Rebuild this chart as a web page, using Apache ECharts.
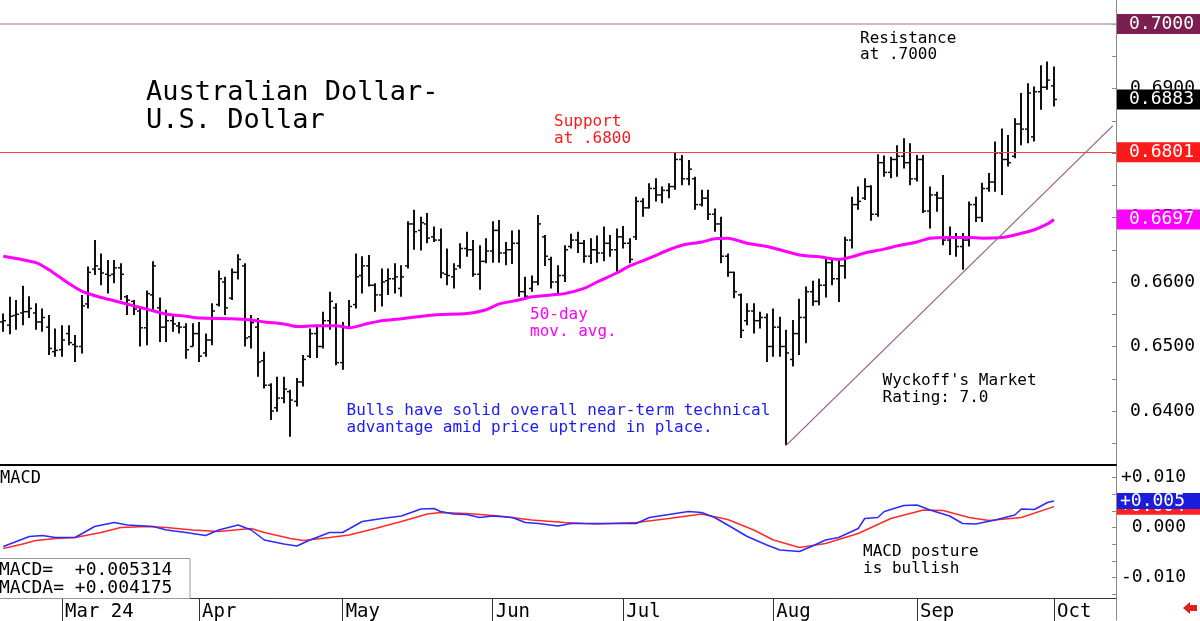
<!DOCTYPE html>
<html>
<head>
<meta charset="utf-8">
<title>Australian Dollar - U.S. Dollar</title>
<script src="https://cdn.jsdelivr.net/npm/echarts@6/dist/echarts.min.js"></script>
<style>
  html, body { margin: 0; padding: 0; background: #ffffff; }
  #chart { width: 1200px; height: 621px; }
</style>
</head>
<body>
<div id="chart"></div>
<script>
var FONT = '"DejaVu Sans Mono", "Liberation Mono", monospace';

// trading days (weekdays) from Feb 19 2024, with some empty room after the last bar
var dates = [];
(function () {
  var d = new Date(Date.UTC(2024, 1, 19));
  while (dates.length < 171) {
    var wd = d.getUTCDay();
    if (wd !== 0 && wd !== 6) dates.push(d.toISOString().slice(0, 10));
    d.setUTCDate(d.getUTCDate() + 1);
  }
})();
var monthNames = { "03": "Mar 24", "04": "Apr", "05": "May", "06": "Jun", "07": "Jul", "08": "Aug", "09": "Sep", "10": "Oct" };

// daily bars
var opens = [
  0.6538, 0.6533, 0.6548, 0.6552, 0.6554, 0.6552, 0.6538, 0.6530, 0.6492, 0.6495,
  0.6520, 0.6503, 0.6500, 0.6566, 0.6620, 0.6620, 0.6612, 0.6612, 0.6622, 0.6577,
  0.6570, 0.6555, 0.6529, 0.6580, 0.6560, 0.6530, 0.6540, 0.6532, 0.6530, 0.6500,
  0.6520, 0.6490, 0.6510, 0.6565, 0.6600, 0.6575, 0.6615, 0.6625, 0.6515, 0.6530,
  0.6478, 0.6440, 0.6405, 0.6420, 0.6430, 0.6415, 0.6445, 0.6485, 0.6520, 0.6500,
  0.6540, 0.6560, 0.6475, 0.6530, 0.6565, 0.6610, 0.6625, 0.6595, 0.6580, 0.6602,
  0.6605, 0.6590, 0.6625, 0.6690, 0.6680, 0.6690, 0.6670, 0.6665, 0.6612, 0.6608,
  0.6625, 0.6652, 0.6650, 0.6612, 0.6632, 0.6648, 0.6680, 0.6645, 0.6650, 0.6660,
  0.6585, 0.6590, 0.6600, 0.6670, 0.6635, 0.6600, 0.6610, 0.6655, 0.6665, 0.6660,
  0.6640, 0.6650, 0.6645, 0.6660, 0.6650, 0.6670, 0.6660, 0.6670, 0.6725, 0.6715,
  0.6745, 0.6735, 0.6742, 0.6748, 0.6790, 0.6760, 0.6760, 0.6720, 0.6730, 0.6705,
  0.6690, 0.6640, 0.6615, 0.6580, 0.6540, 0.6555, 0.6540, 0.6545, 0.6500, 0.6530,
  0.6500, 0.6480, 0.6520, 0.6545, 0.6585, 0.6570, 0.6595, 0.6630, 0.6605, 0.6625,
  0.6665, 0.6720, 0.6730, 0.6748, 0.6705, 0.6785, 0.6770, 0.6790, 0.6795, 0.6785,
  0.6760, 0.6790, 0.6710, 0.6735, 0.6730, 0.6665, 0.6670, 0.6655, 0.6665, 0.6720,
  0.6700, 0.6745, 0.6755, 0.6800, 0.6790, 0.6795, 0.6845, 0.6837, 0.6825, 0.6895,
  0.6902, 0.6904
];
var highs = [
  0.6551, 0.6577, 0.6572, 0.6594, 0.6578, 0.6567, 0.6559, 0.6549, 0.6528, 0.6533,
  0.6533, 0.6518, 0.6580, 0.6624, 0.6665, 0.6644, 0.6634, 0.6634, 0.6629, 0.6580,
  0.6572, 0.6562, 0.6587, 0.6632, 0.6576, 0.6557, 0.6549, 0.6538, 0.6536, 0.6536,
  0.6538, 0.6520, 0.6567, 0.6618, 0.6608, 0.6621, 0.6643, 0.6629, 0.6549, 0.6544,
  0.6492, 0.6443, 0.6453, 0.6453, 0.6433, 0.6451, 0.6487, 0.6528, 0.6533, 0.6554,
  0.6585, 0.6567, 0.6538, 0.6572, 0.6644, 0.6640, 0.6642, 0.6598, 0.6621, 0.6621,
  0.6629, 0.6626, 0.6694, 0.6712, 0.6701, 0.6707, 0.6686, 0.6683, 0.6652, 0.6629,
  0.6660, 0.6678, 0.6665, 0.6657, 0.6668, 0.6694, 0.6696, 0.6662, 0.6680, 0.6681,
  0.6608, 0.6610, 0.6704, 0.6673, 0.6639, 0.6626, 0.6657, 0.6675, 0.6678, 0.6665,
  0.6668, 0.6672, 0.6686, 0.6673, 0.6683, 0.6687, 0.6668, 0.6732, 0.6730, 0.6753,
  0.6761, 0.6748, 0.6753, 0.6800, 0.6797, 0.6789, 0.6763, 0.6743, 0.6743, 0.6714,
  0.6701, 0.6644, 0.6616, 0.6582, 0.6567, 0.6567, 0.6554, 0.6551, 0.6559, 0.6546,
  0.6526, 0.6541, 0.6574, 0.6593, 0.6602, 0.6605, 0.6636, 0.6636, 0.6634, 0.6670,
  0.6732, 0.6748, 0.6761, 0.6750, 0.6798, 0.6796, 0.6794, 0.6812, 0.6823, 0.6815,
  0.6797, 0.6797, 0.6748, 0.6740, 0.6766, 0.6686, 0.6676, 0.6676, 0.6725, 0.6732,
  0.6754, 0.6769, 0.6818, 0.6838, 0.6828, 0.6854, 0.6893, 0.6908, 0.6903, 0.6936,
  0.6942, 0.6934
];
var lows = [
  0.6523, 0.6519, 0.6526, 0.6533, 0.6544, 0.6526, 0.6523, 0.6487, 0.6484, 0.6484,
  0.6502, 0.6476, 0.6489, 0.6559, 0.6611, 0.6595, 0.6582, 0.6598, 0.6572, 0.6549,
  0.6549, 0.6500, 0.6502, 0.6556, 0.6507, 0.6507, 0.6523, 0.6520, 0.6481, 0.6500,
  0.6476, 0.6484, 0.6502, 0.6562, 0.6549, 0.6572, 0.6604, 0.6500, 0.6497, 0.6453,
  0.6435, 0.6386, 0.6399, 0.6412, 0.6360, 0.6407, 0.6438, 0.6482, 0.6482, 0.6497,
  0.6526, 0.6471, 0.6464, 0.6528, 0.6559, 0.6582, 0.6593, 0.6554, 0.6562, 0.6580,
  0.6582, 0.6577, 0.6621, 0.6650, 0.6649, 0.6660, 0.6662, 0.6606, 0.6595, 0.6590,
  0.6621, 0.6639, 0.6608, 0.6588, 0.6629, 0.6630, 0.6630, 0.6626, 0.6628, 0.6577,
  0.6572, 0.6585, 0.6595, 0.6625, 0.6590, 0.6582, 0.6600, 0.6652, 0.6645, 0.6630,
  0.6628, 0.6630, 0.6632, 0.6639, 0.6616, 0.6652, 0.6629, 0.6665, 0.6701, 0.6714,
  0.6725, 0.6722, 0.6730, 0.6743, 0.6750, 0.6750, 0.6712, 0.6717, 0.6696, 0.6678,
  0.6629, 0.6608, 0.6575, 0.6513, 0.6533, 0.6520, 0.6528, 0.6476, 0.6484, 0.6484,
  0.6347, 0.6469, 0.6487, 0.6505, 0.6563, 0.6564, 0.6576, 0.6595, 0.6569, 0.6605,
  0.6652, 0.6712, 0.6727, 0.6695, 0.6701, 0.6763, 0.6761, 0.6763, 0.6776, 0.6750,
  0.6756, 0.6707, 0.6683, 0.6709, 0.6657, 0.6642, 0.6639, 0.6619, 0.6655, 0.6693,
  0.6693, 0.6740, 0.6740, 0.6735, 0.6779, 0.6792, 0.6812, 0.6815, 0.6818, 0.6867,
  0.6898, 0.6872
];
var closes = [
  0.6540, 0.6547, 0.6550, 0.6554, 0.6559, 0.6538, 0.6545, 0.6497, 0.6494, 0.6510,
  0.6506, 0.6500, 0.6563, 0.6615, 0.6625, 0.6614, 0.6610, 0.6622, 0.6612, 0.6572,
  0.6558, 0.6529, 0.6582, 0.6625, 0.6530, 0.6540, 0.6535, 0.6530, 0.6495, 0.6520,
  0.6485, 0.6510, 0.6555, 0.6605, 0.6560, 0.6615, 0.6635, 0.6513, 0.6537, 0.6476,
  0.6440, 0.6400, 0.6420, 0.6434, 0.6417, 0.6445, 0.6480, 0.6520, 0.6500, 0.6540,
  0.6570, 0.6475, 0.6530, 0.6562, 0.6608, 0.6625, 0.6595, 0.6580, 0.6600, 0.6605,
  0.6608, 0.6608, 0.6690, 0.6678, 0.6692, 0.6668, 0.6665, 0.6614, 0.6610, 0.6620,
  0.6652, 0.6650, 0.6612, 0.6632, 0.6648, 0.6680, 0.6645, 0.6650, 0.6660, 0.6585,
  0.6578, 0.6600, 0.6690, 0.6640, 0.6600, 0.6610, 0.6650, 0.6665, 0.6660, 0.6640,
  0.6650, 0.6645, 0.6660, 0.6650, 0.6670, 0.6660, 0.6635, 0.6725, 0.6715, 0.6745,
  0.6735, 0.6742, 0.6748, 0.6790, 0.6760, 0.6775, 0.6720, 0.6730, 0.6705, 0.6690,
  0.6640, 0.6615, 0.6585, 0.6525, 0.6555, 0.6540, 0.6545, 0.6500, 0.6530, 0.6500,
  0.6490, 0.6520, 0.6545, 0.6585, 0.6570, 0.6595, 0.6630, 0.6605, 0.6625, 0.6665,
  0.6720, 0.6725, 0.6748, 0.6705, 0.6785, 0.6770, 0.6790, 0.6795, 0.6785, 0.6760,
  0.6790, 0.6710, 0.6735, 0.6730, 0.6665, 0.6670, 0.6655, 0.6665, 0.6720, 0.6700,
  0.6745, 0.6755, 0.6800, 0.6790, 0.6785, 0.6845, 0.6837, 0.6893, 0.6895, 0.6902,
  0.6913, 0.6883
];

// 50-day moving average, [bar index, value]
var ma50 = [
  [0, 0.6640], [5, 0.6630], [7, 0.6619], [10, 0.6598], [12, 0.6586], [15, 0.6576],
  [17, 0.6571], [20, 0.6563], [22, 0.6558], [25, 0.6550], [28, 0.6547], [30, 0.6544],
  [35, 0.6543], [38, 0.6541], [40, 0.6538], [43, 0.6535], [45, 0.6531], [48, 0.6532],
  [51, 0.6532], [53, 0.6529], [56, 0.6536], [58, 0.6540], [61, 0.6543], [66, 0.6549],
  [71, 0.6551], [74, 0.6557], [76, 0.6566], [79, 0.6572], [81, 0.6577], [84, 0.6580],
  [86, 0.6582], [89, 0.6590], [91, 0.6600], [94, 0.6614], [96, 0.6625], [99, 0.6637],
  [102, 0.6650], [104, 0.6657], [107, 0.6662], [109, 0.6667], [111, 0.6668], [114, 0.6660],
  [117, 0.6655], [119, 0.6650], [122, 0.6642], [125, 0.6639], [128, 0.6635], [130, 0.6639],
  [132, 0.6645], [135, 0.6651], [137, 0.6656], [140, 0.6662], [142, 0.6668], [145, 0.6669],
  [148, 0.6669], [150, 0.6668], [153, 0.6669], [155, 0.6673], [158, 0.6681], [160, 0.6690],
  [161, 0.6697]
];

// MACD (blue) and its average (red), [bar index, value]
var macdLine = [
  [0, -0.0038], [2, -0.0028], [4, -0.0018], [6, -0.0016], [8, -0.0020], [11, -0.0020],
  [14, 0.0002], [17, 0.0010], [19, 0.0005], [23, 0.0002], [25, -0.0005], [28, -0.0010],
  [31, -0.0016], [33, -0.0005], [36, 0.0005], [38, -0.0005], [40, -0.0025], [43, -0.0033],
  [45, -0.0037], [47, -0.0025], [50, -0.0010], [52, -0.0010], [55, 0.0012], [58, 0.0018],
  [61, 0.0023], [64, 0.0037], [66, 0.0038], [67, 0.0032], [69, 0.0027], [71, 0.0026],
  [73, 0.0020], [75, 0.0023], [78, 0.0020], [80, 0.0010], [82, 0.0008], [85, 0.0003],
  [87, 0.0008], [91, 0.0008], [97, 0.0008], [99, 0.0020], [102, 0.0026], [105, 0.0032],
  [107, 0.0030], [109, 0.0020], [111, 0.0005], [114, -0.0018], [117, -0.0035], [119, -0.0045],
  [122, -0.0048], [124, -0.0037], [126, -0.0025], [128, -0.0020], [131, -0.0002], [132, 0.0018],
  [134, 0.0020], [135, 0.0032], [138, 0.0044], [140, 0.0045], [142, 0.0035], [145, 0.0023],
  [147, 0.0008], [149, 0.0007], [152, 0.0015], [155, 0.0025], [156, 0.0037], [158, 0.0036],
  [160, 0.0050], [161, 0.005314]
];
var macdAvg = [
  [0, -0.0042], [3, -0.0033], [5, -0.0026], [8, -0.0022], [11, -0.0020], [15, -0.0010],
  [18, 0.0000], [22, 0.0002], [25, 0.0000], [29, -0.0005], [33, -0.0008], [38, -0.0002],
  [40, -0.0010], [44, -0.0022], [46, -0.0026], [50, -0.0020], [53, -0.0015], [57, -0.0002],
  [61, 0.0012], [65, 0.0027], [67, 0.0030], [71, 0.0028], [76, 0.0023], [81, 0.0015],
  [86, 0.0010], [89, 0.0008], [91, 0.0007], [97, 0.0010], [102, 0.0018], [107, 0.0027],
  [111, 0.0016], [115, -0.0005], [118, -0.0025], [122, -0.0040], [126, -0.0032], [131, -0.0012],
  [136, 0.0018], [141, 0.0035], [144, 0.0034], [148, 0.0020], [151, 0.0014], [156, 0.0020],
  [161, 0.004175]
];

// levels and axis marks
var resistance = 0.7000;
var support = 0.6801;
var trendStart = [120, 0.6347];
var trendEnd = [170, 0.6842];
var priceLabels = [0.64, 0.65, 0.66, 0.67, 0.68, 0.69, 0.70];
var priceTicks = [0.635, 0.64, 0.645, 0.65, 0.655, 0.66, 0.665, 0.67, 0.675, 0.68, 0.685, 0.69, 0.695, 0.70];
var macdLabels = [-0.01, 0, 0.01];
var macdTicks = [-0.0133, -0.01, -0.0067, -0.0033, 0, 0.0033, 0.0067, 0.01];

var ohlc = opens.map(function (o, i) { return [i, o, highs[i], lows[i], closes[i]]; });
var lastClose = closes[closes.length - 1];
var lastMa = ma50[ma50.length - 1][1];
var lastMacd = macdLine[macdLine.length - 1][1];
var lastAvg = macdAvg[macdAvg.length - 1][1];
var CLEAR = 'rgba(0,0,0,0)';
var LAST = dates.length - 1;

function isMonthStart(i) {
  return i > 0 && dates[i].slice(5, 7) !== dates[i - 1].slice(5, 7);
}

function renderBar(params, api) {
  var i = api.value(0);
  var o = api.coord([i, api.value(1)]);
  var h = api.coord([i, api.value(2)]);
  var l = api.coord([i, api.value(3)]);
  var c = api.coord([i, api.value(4)]);
  var x = Math.round(h[0]);
  return {
    type: 'group',
    children: [
      { type: 'line', shape: { x1: x, y1: h[1], x2: x, y2: l[1] }, style: { stroke: '#111', lineWidth: 2 } },
      { type: 'line', shape: { x1: x - 3, y1: o[1], x2: x, y2: o[1] }, style: { stroke: '#111', lineWidth: 1.5 } },
      { type: 'line', shape: { x1: x, y1: c[1], x2: x + 3, y2: c[1] }, style: { stroke: '#111', lineWidth: 1.5 } }
    ]
  };
}

function priceTag(value, bg) {
  return {
    yAxis: value,
    label: {
      show: true, position: 'end', distance: 1, formatter: value.toFixed(4),
      color: '#fff', backgroundColor: bg, fontFamily: FONT, fontSize: 18,
      lineHeight: 20, padding: [0, 2, 0, 12], width: 70, align: 'left'
    }
  };
}

function macdTag(value, bg) {
  return {
    yAxis: value,
    label: {
      show: true, position: 'end', distance: 1, formatter: '+' + value.toFixed(3),
      color: '#fff', backgroundColor: bg, fontFamily: FONT, fontSize: 18,
      lineHeight: 16, padding: [0, 0, 0, 3], width: 81, align: 'left'
    }
  };
}

// a flat level drawn across the whole price panel
function level(value, color, width) {
  return [
    { coord: [0, value], x: 0, lineStyle: { color: color, width: width, type: 'solid' }, label: { show: false } },
    { coord: [LAST, value], x: 1116 }
  ];
}

function note(x, y, text, size, lh, color) {
  return {
    type: 'text', x: x, y: y, z: 100,
    style: { text: text, font: size + 'px ' + FONT, fill: color, lineHeight: lh, verticalAlign: 'top' }
  };
}

var chart = echarts.init(document.getElementById('chart'));
var option = {
  animation: false,
  backgroundColor: '#ffffff',
  grid: [
    { left: 0, right: 84, top: 0, height: 465 },
    { left: 0, right: 84, top: 466, height: 132 },
    { left: 0, right: 84, top: 598, height: 23 }
  ],
  xAxis: [
    {
      gridIndex: 0, type: 'category', data: dates, boundaryGap: true,
      axisLine: { show: true, onZero: false, lineStyle: { color: '#000', width: 2 } },
      axisTick: { show: false }, axisLabel: { show: false }, splitLine: { show: false }
    },
    {
      gridIndex: 1, type: 'category', data: dates, boundaryGap: true, show: false
    },
    {
      gridIndex: 2, type: 'category', data: dates, boundaryGap: true, position: 'top',
      axisLine: { show: true, onZero: false, lineStyle: { color: '#333', width: 1 } },
      axisTick: {
        show: true, inside: true, length: 23, alignWithLabel: true,
        interval: function (i) { return isMonthStart(i); },
        lineStyle: { color: '#333', width: 1 }
      },
      axisLabel: {
        show: true, inside: true, margin: 5, align: 'left', padding: [0, 0, 0, 3],
        interval: function (i) { return isMonthStart(i); },
        formatter: function (v) { return monthNames[v.slice(5, 7)] || ''; },
        fontFamily: FONT, fontSize: 19, color: '#000'
      },
      splitLine: { show: false }
    }
  ],
  yAxis: [
    {
      gridIndex: 0, type: 'value', position: 'right', scale: true,
      min: 0.631628, max: 0.703721,
      axisLine: { show: true, lineStyle: { color: '#8a8a8a', width: 1 } },
      axisTick: { show: true, inside: true, length: 4, customValues: priceTicks, lineStyle: { color: '#8a8a8a' } },
      axisLabel: {
        customValues: priceLabels, margin: 14,
        formatter: function (v) { return v.toFixed(4); },
        fontFamily: FONT, fontSize: 18, color: '#000'
      },
      splitLine: { show: false }
    },
    {
      gridIndex: 1, type: 'value', position: 'right',
      min: -0.0141, max: 0.0123,
      axisLine: { show: true, lineStyle: { color: '#8a8a8a', width: 1 } },
      axisTick: { show: true, inside: true, length: 4, customValues: macdTicks, lineStyle: { color: '#8a8a8a' } },
      axisLabel: {
        customValues: macdLabels, margin: 70, align: 'right',
        formatter: function (v) { return v > 0 ? '+' + v.toFixed(3) : v.toFixed(3); },
        fontFamily: FONT, fontSize: 18, color: '#000'
      },
      splitLine: { show: false }
    },
    {
      gridIndex: 2, type: 'value', position: 'right',
      axisLine: { show: true, lineStyle: { color: '#8a8a8a', width: 1 } },
      axisTick: { show: false }, axisLabel: { show: false }, splitLine: { show: false }
    }
  ],
  series: [
    {
      name: 'AUD/USD', type: 'custom', xAxisIndex: 0, yAxisIndex: 0,
      renderItem: renderBar, data: ohlc, encode: { x: 0, y: [1, 2, 3, 4] }, clip: true, z: 2
    },
    {
      name: '50-day mov. avg.', type: 'line', xAxisIndex: 0, yAxisIndex: 0,
      data: ma50, showSymbol: false, smooth: 0.25, z: 3,
      lineStyle: { color: '#ff00ff', width: 3 }
    },
    {
      name: 'levels', type: 'line', xAxisIndex: 0, yAxisIndex: 0,
      data: [], showSymbol: false,
      markLine: {
        silent: true, symbol: ['none', 'none'], z: 4, precision: 6,
        label: { show: false },
        data: [
          level(resistance, '#c8a0b2', 1.5),
          level(support, '#ff4040', 1.2),
          [
            { coord: trendStart, lineStyle: { color: '#a0587a', width: 1.2, type: 'solid' }, label: { show: false } },
            { coord: trendEnd }
          ]
        ]
      }
    },
    {
      name: 'tags', type: 'line', xAxisIndex: 0, yAxisIndex: 0,
      data: [], showSymbol: false,
      markLine: {
        silent: true, symbol: ['none', 'none'], z: 6, precision: 6,
        lineStyle: { color: CLEAR, width: 1 },
        data: [
          priceTag(resistance, '#7a1f50'),
          priceTag(support, '#ff1a1a'),
          priceTag(lastMa, '#ff00ff'),
          priceTag(lastClose, '#000000')
        ]
      }
    },
    {
      name: 'MACDA', type: 'line', xAxisIndex: 1, yAxisIndex: 1,
      data: macdAvg, showSymbol: false, z: 3,
      lineStyle: { color: '#ff2a2a', width: 1.5 },
      markLine: {
        silent: true, symbol: ['none', 'none'], z: 5, precision: 6,
        lineStyle: { color: CLEAR, width: 1 },
        data: [macdTag(lastAvg, '#ff2020')]
      }
    },
    {
      name: 'MACD', type: 'line', xAxisIndex: 1, yAxisIndex: 1,
      data: macdLine, showSymbol: false, z: 4,
      lineStyle: { color: '#2b2bff', width: 1.5 },
      markLine: {
        silent: true, symbol: ['none', 'none'], z: 6, precision: 6,
        lineStyle: { color: CLEAR, width: 1 },
        data: [macdTag(lastMacd, '#1c1cdc')]
      }
    }
  ],
  graphic: [
    note(146, 79.6, 'Australian Dollar-\nU.S. Dollar', 27, 27.3, '#000'),
    note(860, 30.3, 'Resistance\nat .7000', 16, 16.5, '#000'),
    note(554, 113.7, 'Support\nat .6800', 16, 16.5, '#ff1a1a'),
    note(530, 306.7, '50-day\nmov. avg.', 16, 16.5, '#ff00ff'),
    note(346.5, 402.7, 'Bulls have solid overall near-term technical\nadvantage amid price uptrend in place.', 16, 16.5, '#1a1aff'),
    note(882.5, 372.7, "Wyckoff's Market\nRating: 7.0", 16, 16.5, '#000'),
    note(863, 543.7, 'MACD posture\nis bullish', 16, 16.5, '#000'),
    note(0, 470.5, 'MACD', 17, 17, '#000'),
    {
      type: 'rect', z: 99,
      shape: { x: -2, y: 558.5, width: 192, height: 40 },
      style: { fill: '#fff', stroke: '#999', lineWidth: 1 }
    },
    note(-1, 561.6, 'MACD=  +' + lastMacd.toFixed(6) + '\nMACDA= +' + lastAvg.toFixed(6), 18, 17.5, '#000'),
    {
      type: 'polygon', z: 100,
      shape: { points: [[1183, 608], [1190, 602], [1190, 605], [1197, 605], [1197, 611], [1190, 611], [1190, 614]] },
      style: { fill: '#e02020' }
    }
  ]
};
chart.setOption(option);
window.onresize = function () {
  chart.resize();
};
</script>
</body>
</html>
